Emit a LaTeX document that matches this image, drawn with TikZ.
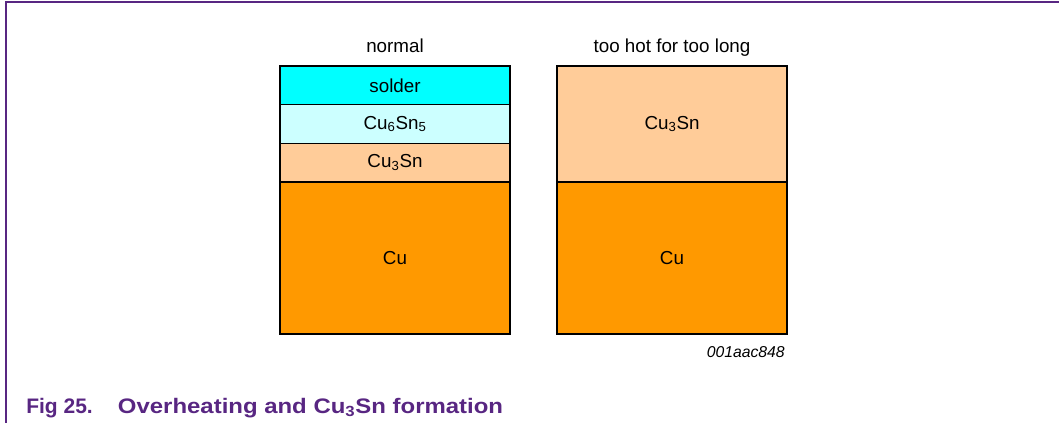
\documentclass[tikz,border=0pt]{standalone}
\usepackage{fontspec}
\setmainfont{Liberation Sans}
\usepackage{xcolor}
\usetikzlibrary{positioning,calc}

\definecolor{nxppurple}{RGB}{88,38,130}
\definecolor{soldercol}{RGB}{0,255,255}
\definecolor{cusixcol}{RGB}{204,255,255}
\definecolor{cuthreecol}{RGB}{255,204,153}
\definecolor{cucol}{RGB}{255,153,0}

\begin{document}
\begin{tikzpicture}[
		layer/.style={draw=black,line width=0.8pt,minimum width=172.5pt,inner sep=0pt,outer sep=0pt,font=\fontsize{14.1}{16}\selectfont},
		head/.style={inner sep=0pt,text depth=0pt,font=\fontsize{14.1}{16}\selectfont},
	]
		\useasboundingbox (0,0) rectangle (794.25pt,-317.25pt);
		% frame
		\coordinate (tl) at (4.5pt,-1.5pt);
		\coordinate (tr) at (794.25pt,-1.5pt);
		\coordinate (bl) at (4.5pt,-317.25pt);
		\draw[nxppurple,line width=1.5pt] (bl) -- (tl) -- (tr);
		%
		% normal
		\node[layer,fill=soldercol,minimum height=29pt,anchor=north west] at (210pt,-49.5pt) (solder) {solder};
		\node[layer,fill=cusixcol,minimum height=29pt,below=0pt of solder] (cusix) {Cu\textsubscript{6}Sn\textsubscript{5}};
		\node[layer,fill=cuthreecol,minimum height=29pt,below=0pt of cusix] (cuthree) {Cu\textsubscript{3}Sn};
		\node[layer,fill=cucol,minimum height=114pt,below=0pt of cuthree] (cu) {Cu};
		\node[head,above=9.75pt of solder] (normal) {normal};
		%
		% too hot for too long
		\node[layer,fill=cuthreecol,minimum height=87pt,below right=0pt and 35.25pt of solder.north east] (hotcuthree) {Cu\textsubscript{3}Sn};
		\node[layer,fill=cucol,minimum height=114pt,below=0pt of hotcuthree] (hotcu) {Cu};
		\node[head,above=9.75pt of hotcuthree] (hot) {too hot for too long};
		%
		\node[anchor=base east,inner sep=0pt,font=\fontsize{11.8}{14}\selectfont\itshape] at ($(hotcu.south east)+(-1.5pt,-18pt)$) (tag) {001aac848};
		\node[anchor=base west,inner sep=0pt,text=nxppurple,font=\fontsize{15.75}{18}\selectfont\bfseries] at (19.5pt,-309.75pt) (caption) {Fig 25.\hspace{1.2em}{\addfontfeatures{FakeStretch=1.14}Overheating and Cu\textsubscript{3}Sn formation}};
	\end{tikzpicture}
\end{document}
